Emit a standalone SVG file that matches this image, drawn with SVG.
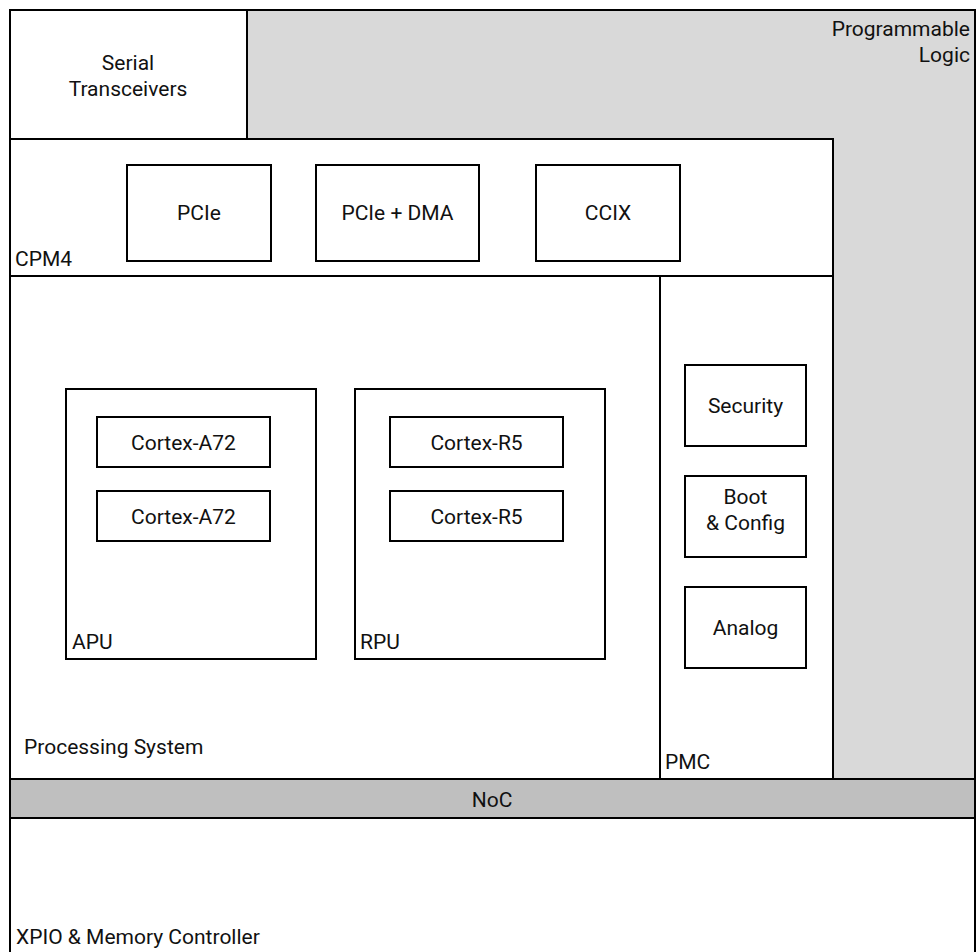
<svg xmlns="http://www.w3.org/2000/svg" width="977" height="952" viewBox="0 0 977 952">
<style>
rect{stroke:#000;stroke-width:2}
.w{fill:#fff}
text{font-family:Roboto,"Liberation Sans",sans-serif;font-size:21px;fill:#111}
.c{text-anchor:middle}
.r{text-anchor:end}
</style>
<g id="pl"><rect x="10" y="10" width="965" height="769" fill="#d9d9d9"/>
<text class="r" x="970" y="36">Programmable</text><text class="r" x="970" y="62">Logic</text></g>
<g id="serdes"><rect class="w" x="10" y="10" width="237" height="129"/>
<text class="c" x="128" y="70">Serial</text><text class="c" x="128" y="96">Transceivers</text></g>
<g id="cpm4"><rect class="w" x="10" y="139" width="823" height="137"/><text x="15" y="266">CPM4</text></g>
<g id="pcie"><rect class="w" x="127" y="165" width="144" height="96"/><text class="c" x="199" y="220">PCIe</text></g>
<g id="pciedma"><rect class="w" x="316" y="165" width="163" height="96"/><text class="c" x="397.5" y="220">PCIe + DMA</text></g>
<g id="ccix"><rect class="w" x="536" y="165" width="144" height="96"/><text class="c" x="608" y="220">CCIX</text></g>
<g id="ps"><rect class="w" x="10" y="276" width="650" height="503"/><text x="24" y="754">Processing System</text></g>
<g id="apu"><rect class="w" x="66" y="389" width="250" height="270"/><text x="72" y="649">APU</text></g>
<g id="a72a"><rect class="w" x="97" y="417" width="173" height="50"/><text class="c" x="183.5" y="450">Cortex-A72</text></g>
<g id="a72b"><rect class="w" x="97" y="491" width="173" height="50"/><text class="c" x="183.5" y="524">Cortex-A72</text></g>
<g id="rpu"><rect class="w" x="355" y="389" width="250" height="270"/><text x="360" y="649">RPU</text></g>
<g id="r5a"><rect class="w" x="390" y="417" width="173" height="50"/><text class="c" x="476.5" y="450">Cortex-R5</text></g>
<g id="r5b"><rect class="w" x="390" y="491" width="173" height="50"/><text class="c" x="476.5" y="524">Cortex-R5</text></g>
<g id="pmc"><rect class="w" x="660" y="276" width="173" height="503"/><text x="665" y="769">PMC</text></g>
<g id="security"><rect class="w" x="685" y="365" width="121" height="81"/><text class="c" x="745.5" y="413">Security</text></g>
<g id="boot"><rect class="w" x="685" y="476" width="121" height="81"/><text class="c" x="745.5" y="504">Boot</text><text class="c" x="745.5" y="530">&amp; Config</text></g>
<g id="analog"><rect class="w" x="685" y="587" width="121" height="81"/><text class="c" x="745.5" y="635">Analog</text></g>
<g id="noc"><rect x="10" y="779" width="965" height="39" fill="#bfbfbf"/><text class="c" x="492" y="807">NoC</text></g>
<g id="xpio"><rect class="w" x="10" y="818" width="965" height="145"/><text x="16" y="944">XPIO &amp; Memory Controller</text></g>
<g id="connectors"></g>
</svg>
